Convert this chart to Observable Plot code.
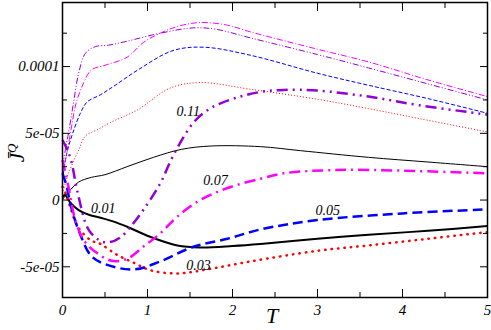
<!DOCTYPE html>
<html>
<head>
<meta charset="utf-8">
<script src="https://cdn.jsdelivr.net/npm/d3@7"></script>
<script src="https://cdn.jsdelivr.net/npm/@observablehq/plot@0.6"></script>
<style>
  html, body { margin: 0; padding: 0; background: #fff; }
  #chart svg { display: block; }
  #chart svg text { font-family: "Liberation Serif", "DejaVu Serif", serif !important; }
</style>
</head>
<body>
<div id="chart"></div>
<script>
// values are in units of 1e-5
const SCALE = 1e-5;

// thin curves (upper group)
const tBlackThin   = [0, 0.03, 0.07, 0.19, 0.34, 0.5, 0.76, 1.07, 1.4, 1.75, 2.33, 2.8, 3.6, 4.3, 5];
const vBlackThin   = [0, 0.3, 0.6, 1.35, 1.7, 1.9, 2.5, 3.2, 3.8, 4.05, 4.0, 3.7, 3.2, 2.85, 2.5];
const tRedThin     = [0, 0.07, 0.19, 0.27, 0.42, 0.56, 0.88, 1.27, 1.62, 2.21, 3.0, 3.6, 4.2, 5];
const vRedThin     = [0.5, 2.0, 3.75, 4.8, 5.3, 5.8, 6.75, 8.4, 8.8, 8.3, 7.55, 6.85, 6.1, 5.1];
const tBlueThin    = [0, 0.05, 0.12, 0.21, 0.29, 0.45, 0.62, 0.9, 1.3, 1.66, 2.21, 3.0, 3.6, 4.3, 5];
const vBlueThin    = [1.5, 3.5, 5.0, 6.5, 7.35, 7.9, 8.6, 9.8, 11.2, 11.45, 10.85, 9.5, 8.6, 7.6, 6.5];
const tMagentaThin = [0, 0.05, 0.1, 0.16, 0.25, 0.34, 0.5, 0.76, 0.95, 1.15, 1.35, 1.62, 1.94, 2.21, 3.0, 3.6, 4.3, 5];
const vMagentaThin = [2.0, 3.5, 5.25, 7.25, 8.8, 9.75, 10.1, 10.7, 11.8, 12.5, 13.0, 13.3, 13.1, 12.6, 11.3, 10.35, 9.0, 7.75];
const tVioletThin  = [0, 0.04, 0.07, 0.13, 0.19, 0.27, 0.39, 0.54, 0.76, 1.15, 1.54, 1.8, 2.21, 3.0, 3.6, 4.3, 5];
const vVioletThin  = [2.5, 4.0, 5.0, 7.3, 9.5, 11.0, 11.5, 11.6, 11.9, 12.5, 12.9, 12.8, 12.15, 10.9, 9.9, 8.7, 7.5];

// thick curves (lower group, labelled)
const tBlackThick   = [0, 0.03, 0.06, 0.1, 0.19, 0.31, 0.46, 0.62, 0.76, 1.03, 1.35, 1.62, 2.0, 2.33, 3.0, 3.6, 4.3, 5];
const vBlackThick   = [0.2, 0.4, 0.1, -0.25, -0.75, -1.1, -1.35, -1.65, -2.0, -2.75, -3.4, -3.55, -3.45, -3.3, -2.9, -2.6, -2.3, -1.95];
const tRedThick     = [0, 0.05, 0.1, 0.18, 0.33, 0.45, 0.64, 0.84, 1.03, 1.35, 1.74, 2.21, 3.0, 3.6, 4.3, 5];
const vRedThick     = [1.0, 0.3, -0.7, -2.0, -3.0, -3.3, -4.1, -4.7, -5.25, -5.5, -5.15, -4.6, -3.8, -3.4, -2.9, -2.4];
const tBlueThick    = [0, 0.05, 0.1, 0.21, 0.34, 0.5, 0.84, 1.15, 1.54, 1.94, 2.33, 3.0, 4.0, 5];
const vBlueThick    = [2.0, 1.0, -0.5, -2.6, -4.2, -4.8, -5.2, -4.6, -3.5, -2.9, -2.2, -1.5, -1.0, -0.7];
const tMagentaThick = [0, 0.07, 0.15, 0.25, 0.39, 0.58, 0.76, 0.95, 1.15, 1.35, 1.62, 1.94, 2.33, 2.6, 3.2, 4.0, 5];
const vMagentaThick = [3.0, 1.0, -1.5, -3.0, -3.9, -4.55, -4.4, -3.5, -2.5, -1.25, 0, 0.9, 1.6, 2.0, 2.25, 2.2, 2.0];
const tVioletThick  = [0, 0.04, 0.1, 0.18, 0.31, 0.46, 0.56, 0.68, 0.8, 0.95, 1.15, 1.3, 1.54, 1.71, 1.86, 2.09, 2.33, 2.6, 3.0, 3.6, 4.2, 5];
const vVioletThick  = [4.5, 4.0, 3.0, 0.5, -2.25, -3.1, -3.15, -2.8, -2.0, -0.75, 1.25, 3.3, 5.8, 6.75, 7.25, 7.75, 8.1, 8.25, 8.2, 7.75, 7.1, 6.4];

// curve labels
const labelText = ["0.01", "0.03", "0.05", "0.07", "0.11"];
const labelT    = [0.48, 1.6, 3.12, 1.8, 1.48];
const labelV    = [-0.6, -4.9, -0.75, 1.5, 6.6];

// axes
const xTicks = [0, 1, 2, 3, 4, 5];
const xMinorTicks = [0.5, 1.5, 2.5, 3.5, 4.5];
const yTicks = [-5e-5, 0, 5e-5, 1e-4];
const yTickLabels = ["-5e-05", "0", "5e-05", "0.0001"];
const yMinorTicks = [-2.5e-5, 2.5e-5, 7.5e-5, 1.25e-4];

const series = [
  {t: tBlackThin,   v: vBlackThin,   color: "#000000", w: 1,   dash: null},
  {t: tRedThin,     v: vRedThin,     color: "#ff0000", w: 1,   dash: "1 2"},
  {t: tBlueThin,    v: vBlueThin,    color: "#0000ff", w: 1,   dash: "4 2"},
  {t: tMagentaThin, v: vMagentaThin, color: "#ff00ff", w: 1,   dash: "6 2 1 2"},
  {t: tVioletThin,  v: vVioletThin,  color: "#9400d3", w: 1,   dash: "6 2 1 2 1 2"},
  {t: tBlackThick,  v: vBlackThick,  color: "#000000", w: 2,   dash: null},
  {t: tRedThick,    v: vRedThick,    color: "#ff0000", w: 2.5, dash: "0.5 6", cap: "round"},
  {t: tBlueThick,   v: vBlueThick,   color: "#0000ff", w: 2.5, dash: "10 5"},
  {t: tMagentaThick,v: vMagentaThick,color: "#ff00ff", w: 2.5, dash: "11 5 2 5"},
  {t: tVioletThick, v: vVioletThick, color: "#9400d3", w: 2.5, dash: "11 5 2 5 2 5"}
];

const lineMarks = series.map(s => Plot.line(
  s.t.map((t, i) => ({T: t, J: s.v[i] * SCALE})),
  {x: "T", y: "J", stroke: s.color, strokeWidth: s.w, strokeDasharray: s.dash,
   strokeLinecap: s.cap || "butt", curve: "catmull-rom"}
));

const labels = labelText.map((s, i) => ({text: s, T: labelT[i], J: labelV[i] * SCALE}));

const font = "'Liberation Serif', 'DejaVu Serif', serif";

const plot = Plot.plot({
  width: 491,
  height: 330,
  marginLeft: 62,
  marginRight: 4,
  marginTop: 2,
  marginBottom: 33,
  style: {fontFamily: font, background: "#fff"},
  x: {domain: [0, 5]},
  y: {domain: [-7.3e-5, 1.48e-4]},
  marks: [
    ...lineMarks,
    Plot.text(labels, {x: "T", y: "J", text: "text", fontSize: 14, fontStyle: "italic", fontFamily: font, fill: "#000"}),
    Plot.axisX(xTicks, {anchor: "bottom", tickSize: -8, tickPadding: 15, label: null, fontSize: 15, fontStyle: "italic", fontFamily: font, tickFormat: d => String(d)}),
    Plot.axisX(xMinorTicks, {anchor: "bottom", tickSize: -5, label: null, text: null}),
    Plot.axisX(xTicks, {anchor: "top", tickSize: -8, label: null, text: null}),
    Plot.axisX(xMinorTicks, {anchor: "top", tickSize: -5, label: null, text: null}),
    Plot.axisY(yTicks, {anchor: "left", tickSize: -8, tickPadding: 11, label: null, fontSize: 15, fontStyle: "italic", fontFamily: font, tickFormat: (d, i) => yTickLabels[i]}),
    Plot.axisY(yMinorTicks, {anchor: "left", tickSize: -5, label: null, text: null}),
    Plot.axisY(yTicks, {anchor: "right", tickSize: -8, label: null, text: null}),
    Plot.axisY(yMinorTicks, {anchor: "right", tickSize: -5, label: null, text: null}),
    Plot.frame({stroke: "#000", strokeWidth: 1.5})
  ]
});

const svg = d3.select(plot);
// axis titles
svg.append("text")
  .attr("x", 272).attr("y", 323)
  .attr("text-anchor", "middle")
  .attr("font-family", font).attr("font-style", "italic").attr("font-size", 22)
  .attr("fill", "#000")
  .text("T");
const yl = svg.append("text")
  .attr("transform", "translate(24,153) rotate(-90)")
  .attr("text-anchor", "middle")
  .attr("font-family", font).attr("font-style", "italic").attr("font-size", 21)
  .attr("fill", "#000");
yl.append("tspan").text("J\u0304");
yl.append("tspan").attr("dy", -8).attr("font-size", 13).text("Q");

document.getElementById("chart").appendChild(plot);
</script>
</body>
</html>
